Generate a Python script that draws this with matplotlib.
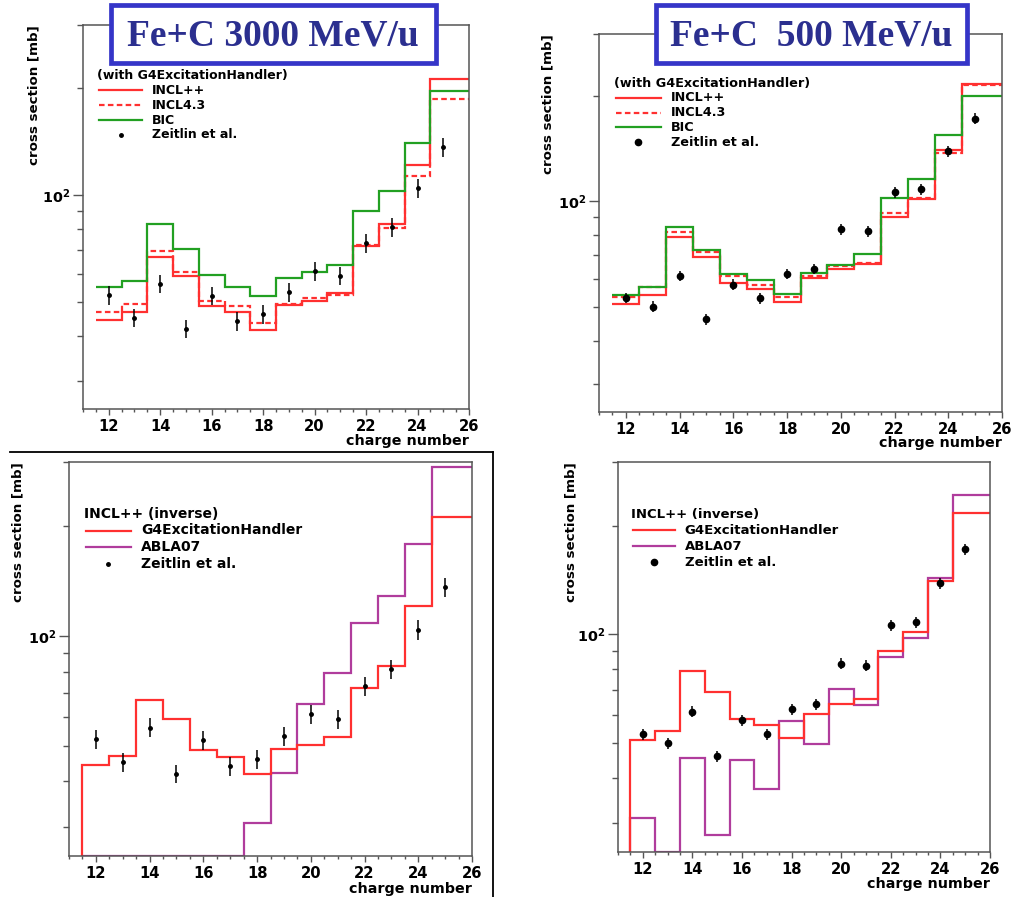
import numpy as np
import matplotlib
matplotlib.use("Agg")
import matplotlib.pyplot as plt
from matplotlib.patches import Rectangle
from matplotlib.lines import Line2D
from matplotlib.ticker import FixedLocator, FixedFormatter, NullFormatter, MultipleLocator

plt.rcParams['font.family'] = ['DejaVu Sans']
plt.rcParams['font.weight'] = 'bold'
plt.rcParams['mathtext.fontset'] = 'dejavusans'

W, H = 1013, 897

# charge number bins (last bin drawn out to the axis end)
charge = np.arange(12, 26)
edges = np.append(charge - 0.5, 26.5)

# Fe+C 3000 MeV/u
incl_3000 = [44.5, 46.9, 66.8, 59.3, 48.8, 46.8, 41.8, 49.1, 50.3, 52.9, 72.0, 82.7, 121.2, 211.6]
incl43_3000 = [46.7, 49.3, 69.7, 60.6, 50.4, 48.6, 43.7, 49.3, 51.2, 52.3, 72.3, 80.6, 112.6, 186.3]
bic_3000 = [55.2, 57.2, 82.5, 70.6, 59.5, 55.2, 51.8, 58.3, 60.6, 63.3, 90.2, 102.2, 139.8, 195.4]
abla_3000 = [0, 0, 0, 0, 0, 0, 30.7, 42.1, 65.3, 79.2, 108.5, 129.2, 179.0, 291.0]
zeit_3000 = [52.3, 45.1, 56.2, 42.0, 52.0, 44.1, 46.1, 53.2, 61.1, 59.2, 73.1, 81.1, 104.2, 136.2]
zeit_3000_err = [3.2, 2.7, 3.4, 2.5, 3.1, 2.6, 2.8, 3.2, 3.7, 3.6, 4.4, 4.9, 6.3, 8.2]

# Fe+C 500 MeV/u
incl_500 = [50.9, 54.1, 79.1, 69.3, 58.3, 56.3, 51.6, 60.4, 64.2, 66.1, 90.2, 101.5, 140.2, 216.4]
incl43_500 = [53.3, 57.0, 81.5, 71.7, 61.3, 57.5, 53.3, 61.2, 65.3, 66.4, 92.6, 102.0, 136.8, 214.0]
bic_500 = [54.1, 57.0, 84.3, 72.7, 62.0, 59.5, 54.3, 62.3, 65.5, 70.7, 102.4, 115.3, 154.7, 200.0]
abla_500 = [31.0, 0, 45.5, 27.8, 44.9, 37.4, 57.7, 49.8, 70.5, 63.8, 86.7, 97.5, 143.6, 242.8]
zeit_500 = [52.9, 50.0, 61.1, 46.0, 57.8, 52.9, 62.0, 64.1, 83.0, 81.9, 106.1, 108.0, 138.6, 171.9]
zeit_500_err = [1.8, 1.8, 2.1, 1.7, 2.0, 1.9, 2.2, 2.2, 2.9, 2.9, 3.7, 3.8, 4.9, 6.0]

YMIN, YMAX = 25, 300
RED = '#ff3030'
GREEN = '#22a022'
PURPLE = '#b03c9c'
DASH = (0, (2.5, 1.5))


def setup(ax):
    ax.set_yscale('log')
    ax.set_xlim(11, 26)
    ax.set_ylim(YMIN, YMAX)
    ax.xaxis.set_major_locator(MultipleLocator(2))
    ax.xaxis.set_minor_locator(MultipleLocator(0.5))
    ax.yaxis.set_major_locator(FixedLocator([100]))
    ax.yaxis.set_major_formatter(FixedFormatter([r'$\mathbf{10^{2}}$']))
    ax.yaxis.set_minor_locator(FixedLocator([30, 40, 50, 60, 70, 80, 90, 200, 300]))
    ax.yaxis.set_minor_formatter(NullFormatter())
    ax.tick_params(axis='x', which='major', length=4, width=1, pad=3, labelsize=10.6, color='#555555')
    ax.tick_params(axis='x', which='minor', length=2.5, width=1, color='#555555')
    ax.tick_params(axis='y', which='major', length=7, width=1, pad=2, labelsize=10.4, color='#555555')
    ax.tick_params(axis='y', which='minor', length=4, width=1, color='#555555')
    for s in ax.spines.values():
        s.set_color('#555555')
        s.set_linewidth(1.1)
    ax.set_xlabel('charge number', fontsize=10.3, fontweight='bold', ha='right', va='center')
    ax.xaxis.set_label_coords(1.0, -0.083)
    ax.set_ylabel('cross section [mb]', fontsize=9.6, fontweight='bold', loc='top')
    ax.yaxis.set_label_coords(-0.11, 1.0)


def hist(ax, vals, color, ls='-', baseline=None):
    v = np.clip(np.array(vals, dtype=float), YMIN, None)
    ax.stairs(v, edges, baseline=baseline, color=color, lw=1.6, ls=ls)


def points(ax, vals, errs, ms):
    ax.errorbar(charge, vals, yerr=errs, fmt='o', color='black', ms=ms,
                elinewidth=1.1, capsize=0, zorder=5)


def key(ax, header, rows, ms, ys, yh, size):
    tr = ax.transAxes
    ax.text(0.036, yh, header, transform=tr, fontsize=size, fontweight='bold', va='center', ha='left')
    for (label, kind, col, ls), y in zip(rows, ys):
        if kind == 'line':
            ax.add_line(Line2D([0.041, 0.153], [y, y], transform=tr, color=col, lw=1.6, ls=ls))
        else:
            ax.add_line(Line2D([0.098], [y], transform=tr, color='black', marker='o', ms=ms, ls='none'))
        ax.text(0.179, y, label, transform=tr, fontsize=size, fontweight='bold', va='center', ha='left')


def fy(ax_top, ax_h, py):
    return 1 - (py - ax_top) / ax_h


fig = plt.figure(figsize=(W / 100, H / 100), dpi=100)
fig.patch.set_facecolor('white')

ax1 = fig.add_axes([83 / W, 1 - 409 / H, 386 / W, 384 / H])
ax2 = fig.add_axes([599 / W, 1 - 412 / H, 403 / W, 378 / H])
ax3 = fig.add_axes([69 / W, 1 - 856 / H, 403 / W, 394 / H])
ax4 = fig.add_axes([618 / W, 1 - 852 / H, 372 / W, 390 / H])
for ax in (ax1, ax2, ax3, ax4):
    setup(ax)

rows_top = [('INCL++', 'line', RED, '-'), ('INCL4.3', 'line', RED, DASH),
            ('BIC', 'line', GREEN, '-'), ('Zeitlin et al.', 'dot', None, None)]
rows_bot = [('G4ExcitationHandler', 'line', RED, '-'), ('ABLA07', 'line', PURPLE, '-'),
            ('Zeitlin et al.', 'dot', None, None)]

# top left: 3000 MeV/u
hist(ax1, incl_3000, RED)
hist(ax1, incl43_3000, RED, ls=DASH)
hist(ax1, bic_3000, GREEN)
points(ax1, zeit_3000, zeit_3000_err, 2.5)
key(ax1, '(with G4ExcitationHandler)', rows_top, 2.5,
    [fy(25, 384, p) for p in (90.5, 105.3, 120.1, 134.9)], fy(25, 384, 75.7), 9)

# top right: 500 MeV/u
hist(ax2, incl_500, RED)
hist(ax2, incl43_500, RED, ls=DASH)
hist(ax2, bic_500, GREEN)
points(ax2, zeit_500, zeit_500_err, 4.5)
key(ax2, '(with G4ExcitationHandler)', rows_top, 4.5,
    [fy(34, 378, p) for p in (97.8, 112.6, 127.4, 142.2)], fy(34, 378, 83), 9.2)

# bottom left: inverse kinematics 3000 MeV/u
hist(ax3, abla_3000, PURPLE, baseline=YMIN)
hist(ax3, incl_3000, RED, baseline=YMIN)
points(ax3, zeit_3000, zeit_3000_err, 2.5)
key(ax3, 'INCL++ (inverse)', rows_bot, 2.5,
    [fy(462, 394, p) for p in (530.5, 547, 563.5)], fy(462, 394, 514), 10)

# bottom right: inverse kinematics 500 MeV/u
hist(ax4, abla_500, PURPLE, baseline=YMIN)
hist(ax4, incl_500, RED, baseline=YMIN)
points(ax4, zeit_500, zeit_500_err, 4.5)
key(ax4, 'INCL++ (inverse)', rows_bot, 4.5,
    [fy(462, 390, p) for p in (530, 546, 562)], fy(462, 390, 514), 9.5)

# title boxes
for (x0, x1), txt, xc in [((109, 438), 'Fe+C 3000 MeV/u', 273), ((654, 969), 'Fe+C  500 MeV/u', 811)]:
    fig.add_artist(Rectangle((x0 / W + 2.3 / W, 1 - 65 / H + 2.3 / H), (x1 - x0 - 4.6) / W, (62 - 4.6) / H,
                             transform=fig.transFigure, facecolor='white', edgecolor='#3535c8', lw=3.4, zorder=10))
    fig.text(xc / W, 1 - 36 / H, txt, family='Liberation Serif', fontweight='bold', fontsize=27,
             color='#2b2f8f', ha='center', va='center', zorder=11)

# frame line around the lower-left picture
fig.add_artist(Line2D([10 / W, 493 / W], [1 - 452 / H, 1 - 452 / H], color='black', lw=1.3))
fig.add_artist(Line2D([493 / W, 493 / W], [1 - 452 / H, 0], color='black', lw=1.3))

fig.savefig('out.png', dpi=100)
